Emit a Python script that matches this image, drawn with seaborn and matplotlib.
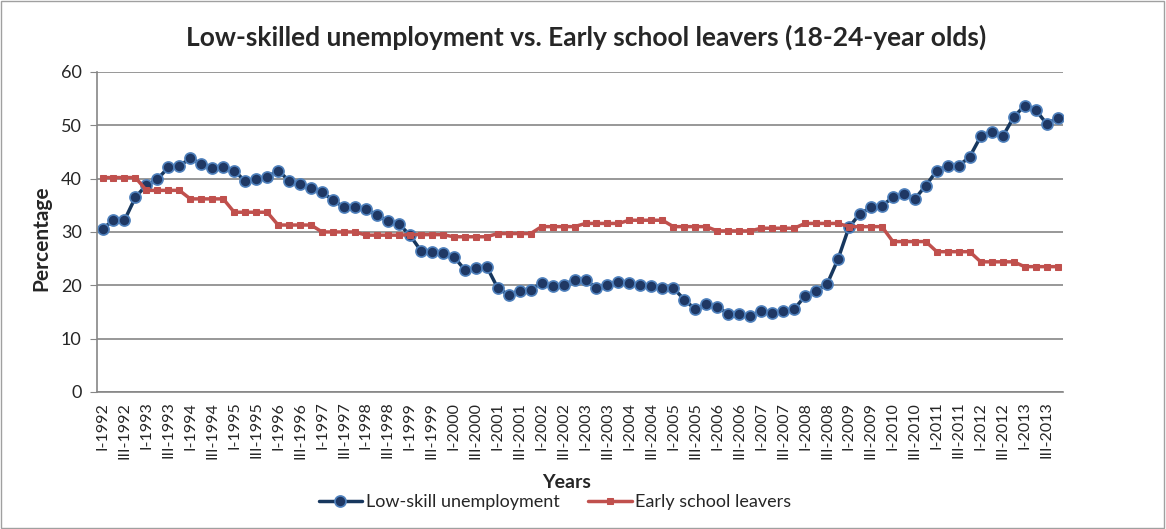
import numpy as np
import pandas as pd
import matplotlib
matplotlib.use("Agg")
import matplotlib.pyplot as plt
from matplotlib.patches import Rectangle
import seaborn as sns

years = list(range(1992, 2014))
quarters = ["I", "II", "III", "IV"]
periods = [f"{q}-{y}" for y in years for q in quarters]

low_skill_unemployment = [
    30.6, 32.2, 32.2, 36.5, 38.8, 39.9, 42.1, 42.3,
    43.9, 42.7, 42.0, 42.1, 41.5, 39.5, 39.9, 40.3,
    41.5, 39.6, 38.9, 38.3, 37.4, 36.0, 34.6, 34.6,
    34.3, 33.1, 32.1, 31.5, 29.4, 26.5, 26.3, 26.0,
    25.4, 22.9, 23.2, 23.5, 19.5, 18.2, 19.0, 19.1,
    20.5, 19.8, 20.1, 21.0, 21.0, 19.5, 20.1, 20.7,
    20.5, 20.1, 19.8, 19.5, 19.5, 17.3, 15.5, 16.5,
    16.0, 14.6, 14.6, 14.2, 15.2, 14.9, 15.2, 15.5,
    18.0, 19.0, 20.2, 24.9, 30.9, 33.4, 34.6, 34.9,
    36.5, 37.1, 36.2, 38.7, 41.5, 42.4, 42.4, 44.1,
    47.9, 48.8, 47.9, 51.5, 53.7, 52.9, 50.3, 51.3,
]

early_leavers_annual = [
    40.2, 37.8, 36.2, 33.7, 31.3, 30.0, 29.4, 29.5, 29.1, 29.7, 31.0,
    31.6, 32.2, 31.0, 30.2, 30.7, 31.6, 31.0, 28.2, 26.3, 24.4, 23.5,
]
early_school_leavers = [v for v in early_leavers_annual for _ in range(4)]

tick_labels = periods[::2]

df = pd.DataFrame({
    "idx": np.arange(len(periods)),
    "period": periods,
    "low": low_skill_unemployment,
    "early": early_school_leavers,
})

sns.set_style("white")
plt.rcParams["font.family"] = ["Lato", "DejaVu Sans"]

fig = plt.figure(figsize=(11.66, 5.29), dpi=100)
ax = fig.add_axes([0.0832, 0.259, 0.8285, 0.605])

sns.lineplot(data=df, x="idx", y="low", ax=ax, color="#17375E", linewidth=2.5,
             marker="o", markersize=8, markerfacecolor="#1F3864",
             markeredgecolor="#4F81BD", markeredgewidth=1.2,
             label="Low-skill unemployment", legend=False)
sns.lineplot(data=df, x="idx", y="early", ax=ax, color="#C0504D", linewidth=2.5,
             marker="s", markersize=5, markerfacecolor="#C0504D",
             markeredgecolor="#C0504D", label="Early school leavers", legend=False)

ax.set_ylim(0, 60)
ax.set_yticks(range(0, 61, 10))
ax.set_xlim(-0.5, len(periods) - 0.5)
ax.set_xticks(np.arange(0, len(periods), 2))
ax.set_xticklabels(tick_labels, rotation=90, fontsize=11.5)
ax.tick_params(axis="y", labelsize=13, length=5, color="#868686", direction="out",
               left=True, pad=6)
ax.tick_params(axis="x", length=0, pad=7)
ax.yaxis.grid(True, color="#868686", linewidth=1.2)
ax.xaxis.grid(False)
for s in ["top", "right"]:
    ax.spines[s].set_visible(False)
for s in ["left", "bottom"]:
    ax.spines[s].set_color("#868686")
    ax.spines[s].set_linewidth(1.2)

ax.set_ylabel("Percentage", fontsize=15, fontweight="bold")
ax.yaxis.set_label_coords(-0.047, 0.48)
ax.set_xlabel("Years", fontsize=14, fontweight="bold")
ax.xaxis.set_label_coords(0.4865, -0.256)
fig.text(0.503, 0.930,
         "Low-skilled unemployment vs. Early school leavers (18-24-year olds)",
         ha="center", va="center", fontsize=19, fontweight="bold")

handles, labels = ax.get_legend_handles_labels()
fig.legend(handles, labels, loc="center", bbox_to_anchor=(0.476, 0.051), ncol=2,
           frameon=False, fontsize=13, handlelength=2.4, columnspacing=1.6,
           handletextpad=0.2, borderpad=0)

fig.patches.append(Rectangle((0.001, 0.002), 0.997, 0.996, transform=fig.transFigure,
                             fill=False, edgecolor="#A0A0A0", linewidth=1))

fig.savefig("out.png", dpi=100)
